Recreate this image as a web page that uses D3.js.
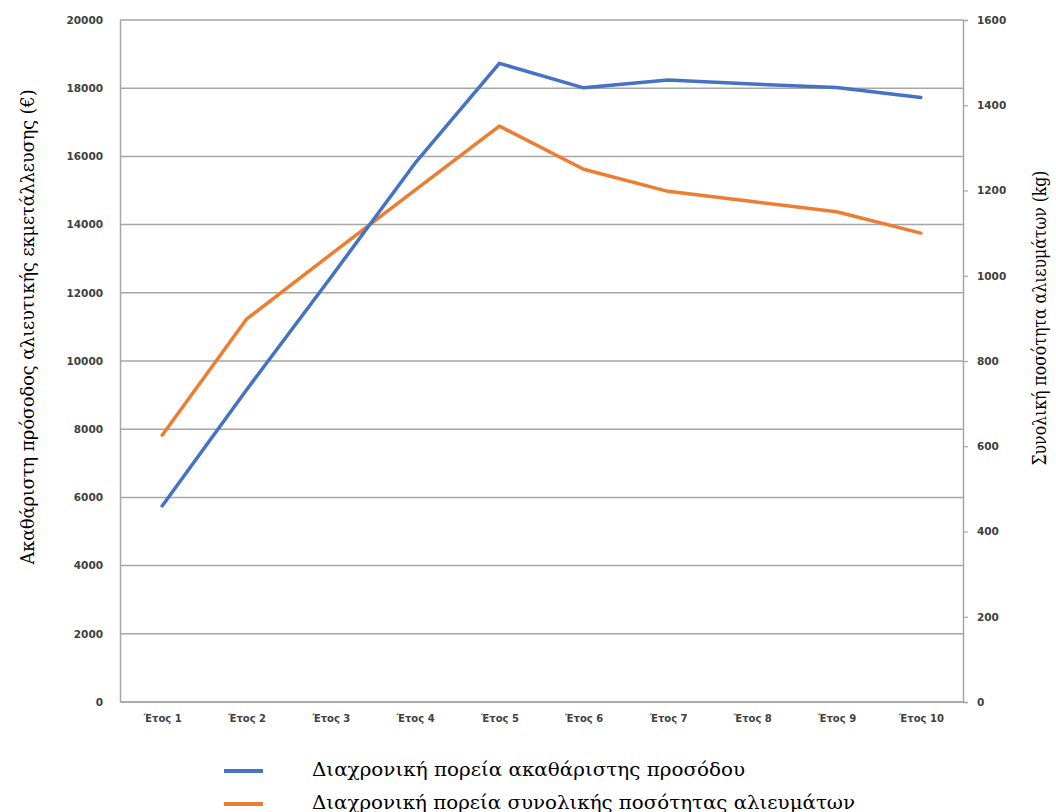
<!DOCTYPE html>
<html>
<head>
<meta charset="utf-8">
<script src="https://cdn.jsdelivr.net/npm/d3@7"></script>
<style>
  html, body { margin: 0; padding: 0; background: #ffffff; }
  svg { display: block; }
</style>
</head>
<body>
<svg id="chart" width="1056" height="812"></svg>
<script>
// Ten years of a fishing operation: gross income (left axis) and total catch (right axis)
const years = ["Έτος 1", "Έτος 2", "Έτος 3", "Έτος 4", "Έτος 5", "Έτος 6", "Έτος 7", "Έτος 8", "Έτος 9", "Έτος 10"];
const grossIncome = [5750, 9150, 12450, 15800, 18730, 18010, 18240, 18120, 18020, 17730];
const totalCatch = [626, 898, 1050, 1201, 1351, 1250, 1198, 1174, 1150, 1100];
const leftTicks = [0, 2000, 4000, 6000, 8000, 10000, 12000, 14000, 16000, 18000, 20000];
const rightTicks = [0, 200, 400, 600, 800, 1000, 1200, 1400, 1600];
const seriesNames = ["Διαχρονική πορεία ακαθάριστης προσόδου", "Διαχρονική πορεία συνολικής ποσότητας αλιευμάτων"];
const leftTitle = "Ακαθάριστη πρόσοδος αλιευτικής εκμετάλλευσης (€)";
const rightTitle = "Συνολική ποσότητα αλιευμάτων (kg)";

const colors = ["#4472C4", "#ED7D31"];
const gridColor = "#a6a6a6";
const tickFont = "'DejaVu Sans', Verdana, sans-serif";
const serifFont = "'DejaVu Serif', 'Liberation Serif', 'Times New Roman', serif";

const svg = d3.select("#chart");
const plot = { left: 120, right: 963, top: 20, bottom: 702 };

const x = d3.scalePoint().domain(years).range([plot.left, plot.right]).padding(0.5);
const yL = d3.scaleLinear().domain([0, 20000]).range([plot.bottom, plot.top]);
const yR = d3.scaleLinear().domain([0, 1600]).range([plot.bottom, plot.top]);

// horizontal gridlines at the left-axis ticks
svg.append("g")
  .selectAll("line")
  .data(leftTicks)
  .join("line")
  .attr("x1", plot.left).attr("x2", plot.right)
  .attr("y1", d => yL(d)).attr("y2", d => yL(d))
  .attr("stroke", gridColor).attr("stroke-width", 1.5);

// left axis
const gLeft = svg.append("g")
  .attr("transform", `translate(${plot.left},0)`)
  .call(d3.axisLeft(yL).tickValues(leftTicks).tickFormat(d3.format("d")).tickSize(0).tickPadding(17));
gLeft.select(".domain").attr("stroke", gridColor).attr("stroke-width", 1.5);
gLeft.selectAll("text")
  .attr("font-family", tickFont).attr("font-size", 10.5).attr("font-weight", "bold").attr("fill", "#404040");

// right axis
const gRight = svg.append("g")
  .attr("transform", `translate(${plot.right},0)`)
  .call(d3.axisRight(yR).tickValues(rightTicks).tickFormat(d3.format("d")).tickSize(5).tickPadding(9));
gRight.select(".domain").attr("stroke", gridColor).attr("stroke-width", 1.5);
gRight.selectAll(".tick line").attr("stroke", gridColor).attr("stroke-width", 1.2);
gRight.selectAll("text")
  .attr("font-family", tickFont).attr("font-size", 10.5).attr("font-weight", "bold").attr("fill", "#404040");

// bottom axis
const gBottom = svg.append("g")
  .attr("transform", `translate(0,${plot.bottom})`)
  .call(d3.axisBottom(x).tickSize(0).tickPadding(13));
gBottom.select(".domain").attr("d", `M${plot.left},0H${plot.right}`).attr("stroke", gridColor).attr("stroke-width", 1.5);
gBottom.selectAll("text")
  .attr("font-family", tickFont).attr("font-size", 10).attr("font-weight", "bold").attr("fill", "#404040");

// series lines
const lineL = d3.line().x((d, i) => x(years[i])).y(d => yL(d));
const lineR = d3.line().x((d, i) => x(years[i])).y(d => yR(d));

svg.append("path").datum(totalCatch)
  .attr("d", lineR).attr("fill", "none")
  .attr("stroke", colors[1]).attr("stroke-width", 3.5)
  .attr("stroke-linejoin", "round").attr("stroke-linecap", "round");

svg.append("path").datum(grossIncome)
  .attr("d", lineL).attr("fill", "none")
  .attr("stroke", colors[0]).attr("stroke-width", 3.5)
  .attr("stroke-linejoin", "round").attr("stroke-linecap", "round");

// axis titles
svg.append("text")
  .attr("transform", `translate(34,${(plot.top + plot.bottom) / 2 - 34}) rotate(-90)`)
  .attr("text-anchor", "middle")
  .attr("font-family", serifFont).attr("font-size", 18).attr("fill", "#000")
  .attr("textLength", 475).attr("lengthAdjust", "spacingAndGlyphs")
  .text(leftTitle);

svg.append("text")
  .attr("transform", `translate(1046,${(plot.top + plot.bottom) / 2 - 43}) rotate(-90)`)
  .attr("text-anchor", "middle")
  .attr("font-family", serifFont).attr("font-size", 18).attr("fill", "#000")
  .attr("textLength", 295).attr("lengthAdjust", "spacingAndGlyphs")
  .text(rightTitle);

// legend
const legend = svg.append("g");
const legendRows = [771, 804];
const legendWidths = [433, 543];
seriesNames.forEach((name, i) => {
  legend.append("line")
    .attr("x1", 224).attr("x2", 263)
    .attr("y1", legendRows[i]).attr("y2", legendRows[i])
    .attr("stroke", colors[i]).attr("stroke-width", 4);
  legend.append("text")
    .attr("x", 312).attr("y", legendRows[i] + 5)
    .attr("font-family", serifFont).attr("font-size", 19).attr("fill", "#000")
    .attr("textLength", legendWidths[i]).attr("lengthAdjust", "spacingAndGlyphs")
    .text(name);
});
</script>
</body>
</html>
